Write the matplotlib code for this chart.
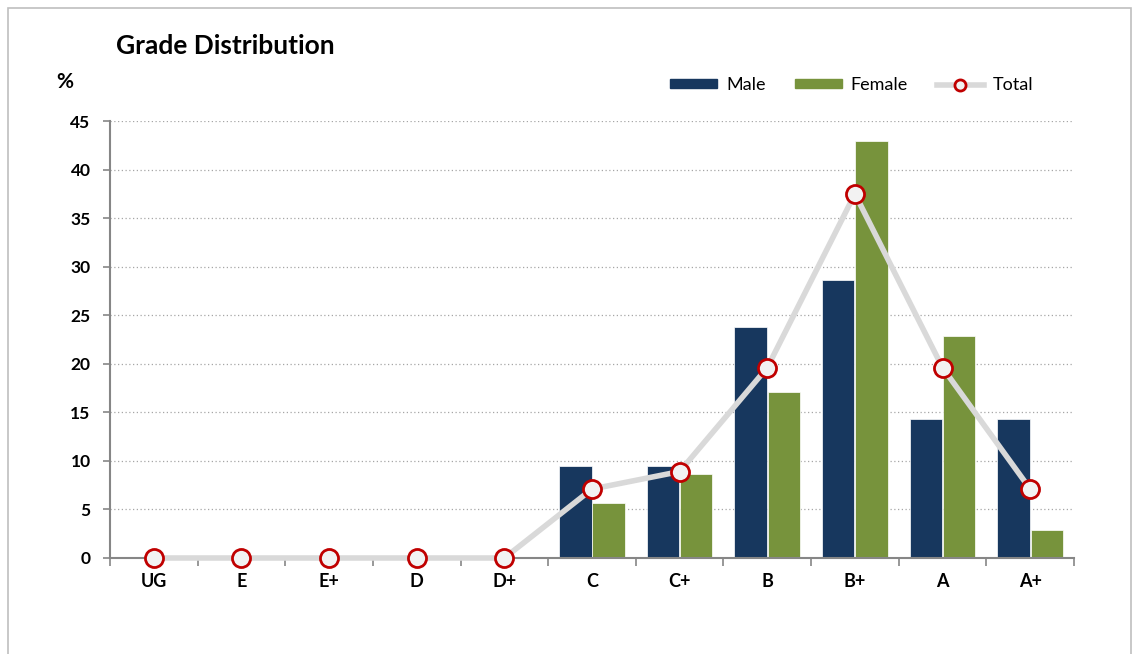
import numpy as np
import matplotlib
matplotlib.use("Agg")
import matplotlib.pyplot as plt
from matplotlib.patches import Rectangle
from matplotlib.lines import Line2D
from matplotlib.patches import Patch

plt.rcParams['font.family'] = ['Lato', 'DejaVu Sans']

grades = ['UG', 'E', 'E+', 'D', 'D+', 'C', 'C+', 'B', 'B+', 'A', 'A+']
male = [0, 0, 0, 0, 0, 9.5, 9.5, 23.8, 28.6, 14.3, 14.3]
female = [0, 0, 0, 0, 0, 5.7, 8.6, 17.1, 42.9, 22.9, 2.9]
total = [0, 0, 0, 0, 0, 7.1, 8.9, 19.6, 37.5, 19.6, 7.1]
y_ticks = [0, 5, 10, 15, 20, 25, 30, 35, 40, 45]

male_color = '#17375e'
female_color = '#77933c'
line_color = '#d9d9d9'
marker_edge = '#c00000'
axis_gray = '#868686'

fig = plt.figure(figsize=(11.34, 6.54), dpi=100)
fig.patches.append(Rectangle((8 / 1134, -0.1), 1123 / 1134, 1.1 - 8 / 654,
                             transform=fig.transFigure, fill=False,
                             edgecolor='#bfbfbf', linewidth=1.2))

ax = fig.add_axes([110 / 1134, 1 - 558 / 654, 964 / 1134, 437 / 654])

x = np.arange(len(grades))
w = 0.37
ax.bar(x - 0.19, male, width=w, color=male_color, edgecolor='white', linewidth=0.5, zorder=2)
ax.bar(x + 0.19, female, width=w, color=female_color, edgecolor='white', linewidth=0.5, zorder=2)
ax.plot(x, total, color=line_color, linewidth=4, marker='o', markersize=13,
        markerfacecolor='#f2f2f2', markeredgecolor=marker_edge, markeredgewidth=2,
        zorder=3, clip_on=False)

ax.set_xlim(-0.5, len(grades) - 0.5)
ax.set_ylim(0, 45)
ax.set_yticks(y_ticks)
ax.set_yticklabels([str(t) for t in y_ticks], fontsize=12.5, fontweight='bold')
for t in y_ticks[1:]:
    ax.axhline(t, color='#a6a6a6', linestyle=(0, (1, 2)), linewidth=0.9, zorder=1)

ax.set_xticks(x)
ax.set_xticklabels(grades, fontsize=13, fontweight='bold')
ax.set_xticks(np.arange(-0.5, len(grades)), minor=True)
ax.tick_params(axis='x', which='major', length=0, pad=11)
ax.tick_params(axis='x', which='minor', length=6, color=axis_gray, width=1.2)
ax.tick_params(axis='y', length=5, color=axis_gray, width=1.2, pad=9)

for side in ['top', 'right']:
    ax.spines[side].set_visible(False)
for side in ['left', 'bottom']:
    ax.spines[side].set_color(axis_gray)
    ax.spines[side].set_linewidth(1.5)

fig.text(116 / 1134, 1 - 46 / 654, 'Grade Distribution', fontsize=19,
         fontweight='bold', va='center', ha='left')
fig.text(56 / 1134, 1 - 82 / 654, '%', fontsize=15, fontweight='bold',
         va='center', ha='left')

handles = [Patch(color=male_color), Patch(color=female_color),
           Line2D([0], [0], color=line_color, linewidth=4, marker='o', markersize=8,
                  markerfacecolor='#f2f2f2', markeredgecolor=marker_edge,
                  markeredgewidth=2)]
fig.legend(handles, ['Male', 'Female', 'Total'], loc='center left',
           bbox_to_anchor=(654 / 1134, 1 - 85 / 654), ncol=3, frameon=False,
           fontsize=13, handlelength=2.6, handleheight=0.35, handletextpad=0.5,
           columnspacing=1.6)

fig.savefig('out.png', dpi=100)
